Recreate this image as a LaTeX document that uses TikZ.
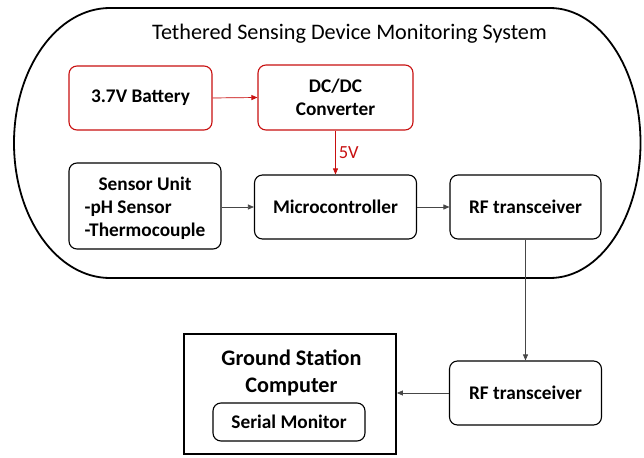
\documentclass[tikz,border=0pt]{standalone}
\usepackage{fontspec}
\setmainfont{Carlito}
\usetikzlibrary{arrows.meta}
\definecolor{pred}{RGB}{200,16,16}
\definecolor{lgray}{RGB}{70,70,70}
\tikzset{
  box/.style={draw=black, line width=1.1pt, rounded corners=8pt, align=center,
    font=\fontsize{19.3}{23.3}\selectfont\bfseries, inner sep=0pt},
  redbox/.style={box, draw=pred},
  conn/.style={draw=lgray, line width=0.7pt, -{Triangle[length=6pt,width=5pt]}},
  redconn/.style={conn, draw=pred, fill=pred, -{Triangle[length=6pt,width=5pt,fill=pred]}},
}
\begin{document}
\begin{tikzpicture}[x=1pt,y=-1pt]
\useasboundingbox (0,0) rectangle (644,457);
% outer enclosure
\draw[line width=1.8pt] (110,8) -- (550,8)
  arc[start angle=-90, end angle=90, x radius=90.5, y radius=135] -- (110,278)
  arc[start angle=90, end angle=270, x radius=96, y radius=135] -- cycle;
\node[font=\fontsize{22.2}{26}\selectfont] (title) at (349.5,34) {Tethered Sensing Device Monitoring System};

\node[redbox, minimum width=143pt, minimum height=64pt] (bat) at (140.5,98) {3.7V Battery};
\node[redbox, minimum width=155pt, minimum height=65pt] (dc) at (335.5,97.5) {DC/DC\\Converter};
\node[box, minimum width=152pt, minimum height=86pt] (sens) at (145,206)
  {\begin{tabular}{@{}l@{}}\multicolumn{1}{@{}c@{}}{\rule{0pt}{22.3pt}Sensor Unit}\\-pH Sensor\\-Thermocouple\end{tabular}};
\node[box, minimum width=162pt, minimum height=64pt] (mcu) at (335.5,207) {Microcontroller};
\node[box, minimum width=151pt, minimum height=64pt] (rf1) at (525.5,207) {RF transceiver};
\node[box, minimum width=152pt, minimum height=64pt] (rf2) at (525.5,393) {RF transceiver};

\node[draw=black, line width=1.8pt, minimum width=212pt, minimum height=120pt, inner sep=0pt] (gs) at (290,394) {};
\node[align=center, font=\fontsize{22.2}{27}\selectfont\bfseries, inner sep=0pt] (gstext) at (291.5,373) {Ground Station\\Computer};
\node[box, minimum width=152pt, minimum height=38pt] (sm) at (289,422) {Serial Monitor};

\draw[redconn] (bat.east) -- (dc.west);
\draw[redconn] (dc.south) -- node[right, text=pred, font=\fontsize{18.5}{22}\selectfont, inner sep=3pt] {5V} (mcu.north);
\draw[conn] (sens.east |- mcu.west) -- (mcu.west);
\draw[conn] (mcu.east) -- (rf1.west);
\draw[conn] (rf1.south) -- (rf2.north);
\draw[conn] (rf2.west) -- (gs.east |- rf2.west);
\end{tikzpicture}
\end{document}
